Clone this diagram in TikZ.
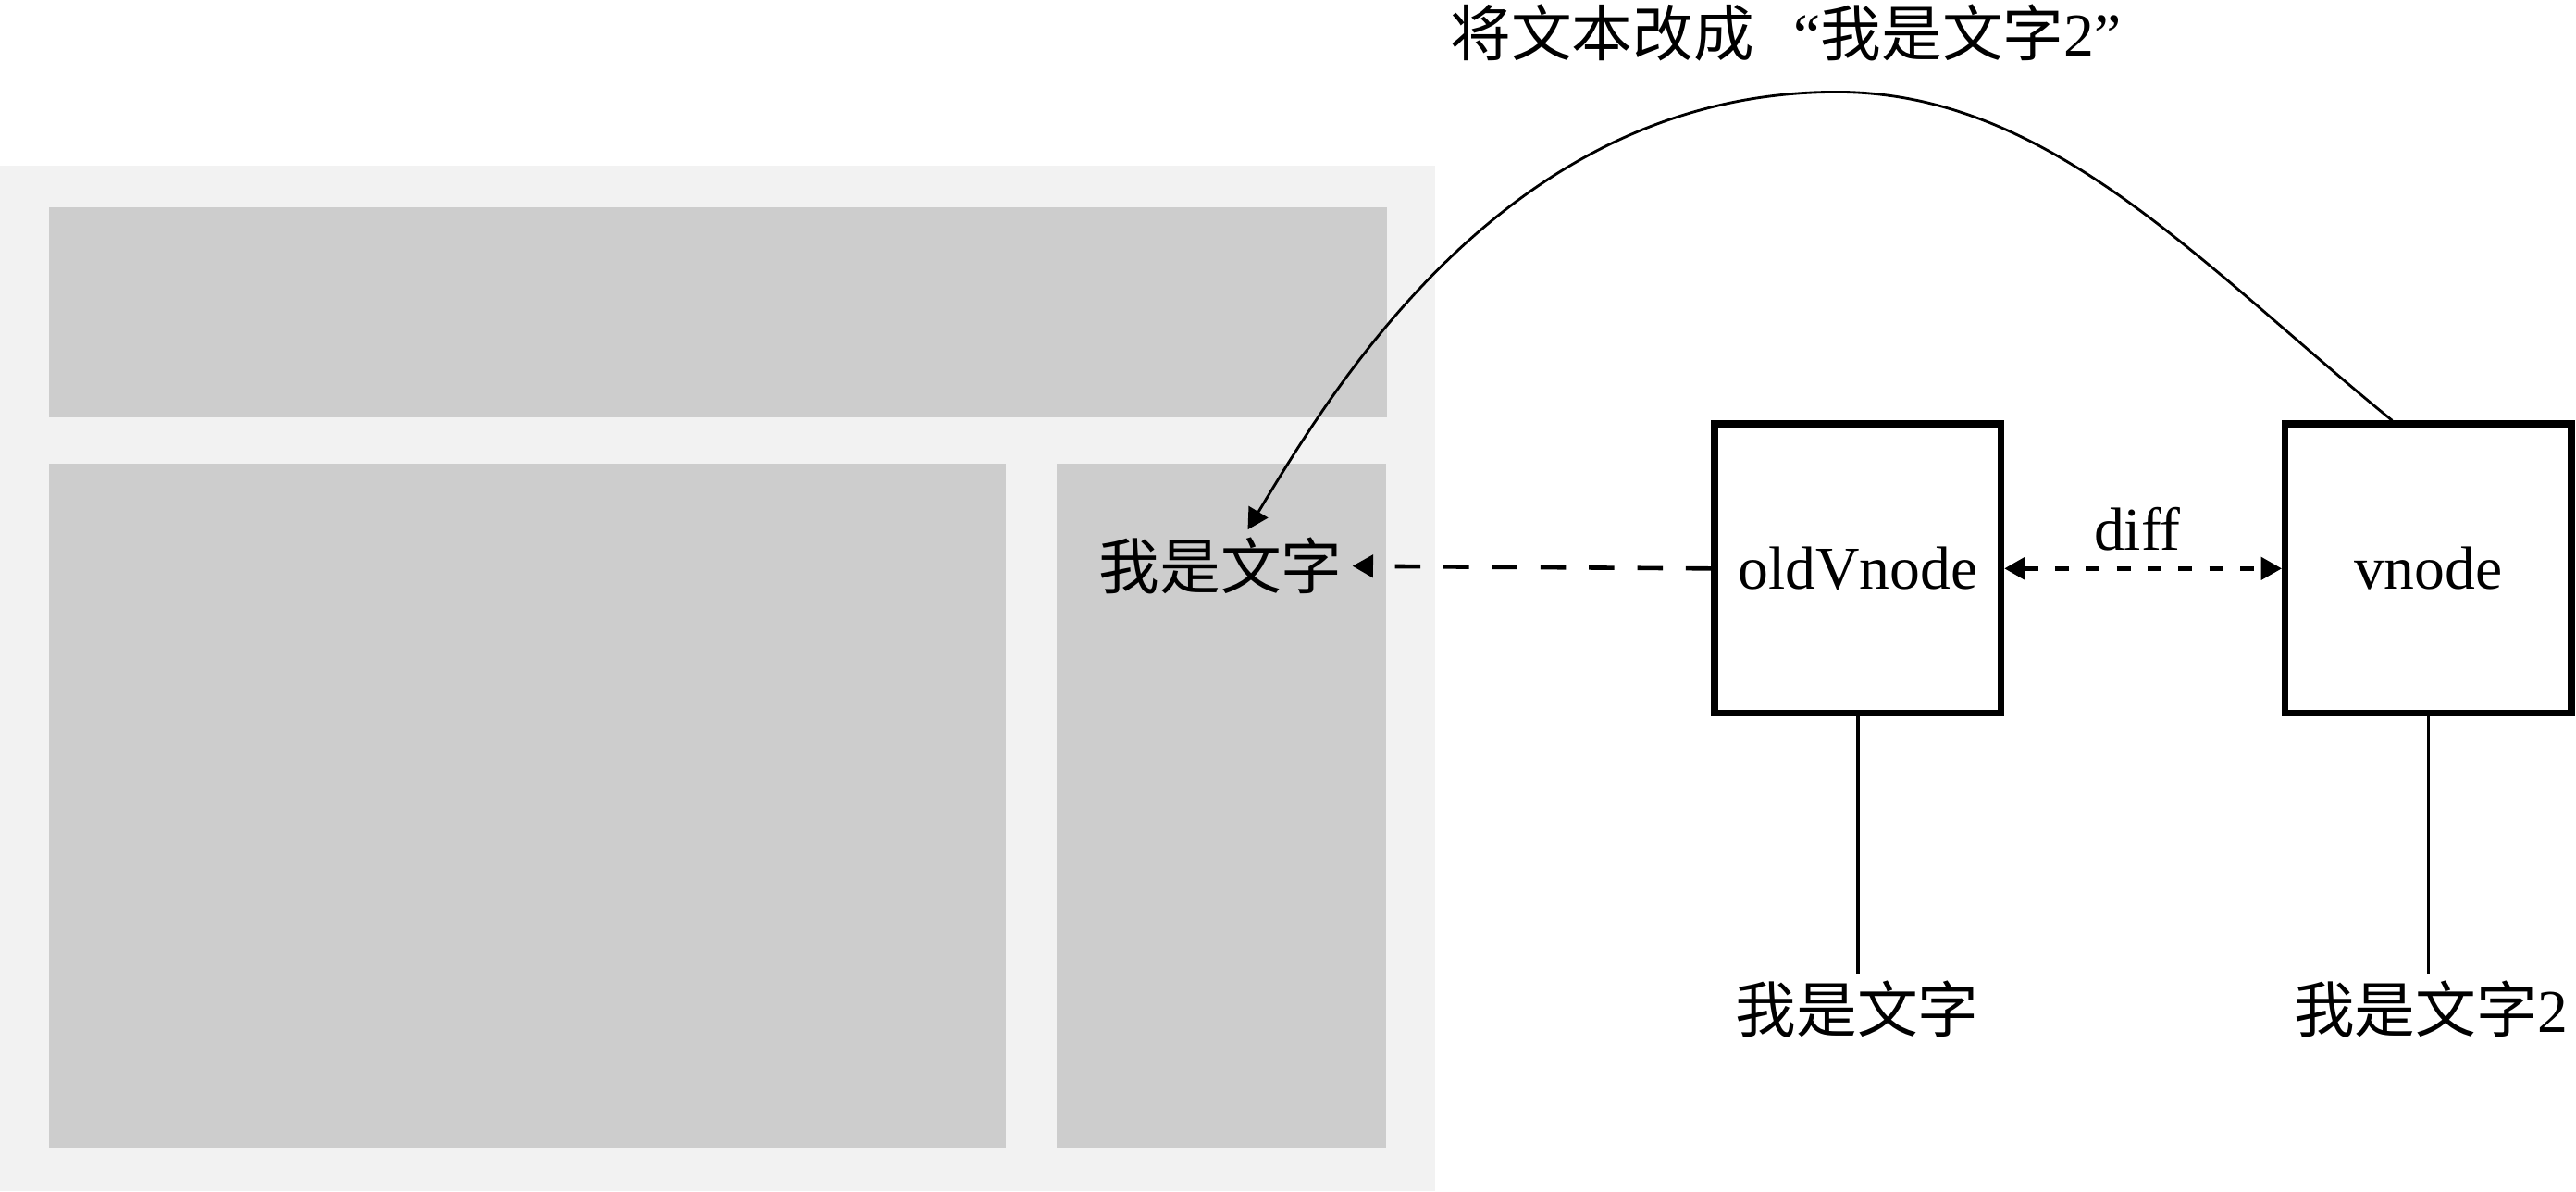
\documentclass[tikz,border=0pt]{standalone}
\usepackage{fontspec}
\setmainfont{Liberation Serif}
\newfontfamily\cjk{Noto Sans CJK SC}
\usetikzlibrary{arrows.meta,calc}
\definecolor{panelgray}{HTML}{F2F2F2}
\definecolor{blockgray}{HTML}{CDCDCD}
\begin{document}
\begin{tikzpicture}[x=1pt,y=-1pt,
  font=\fontsize{37pt}{44pt}\selectfont,
  vbox/.style={draw=black,line width=4.2pt,minimum width=174.2pt,minimum height=176pt,inner sep=0pt,fill=white},
  cjklbl/.style={inner sep=6pt,text height=30pt,text depth=2pt},
  headtip/.tip={Triangle[length=12.6pt,width=13.5pt]},
  dashlong/.style={line width=2.6pt,dash pattern=on 15.5pt off 14pt},
  dashshort/.style={line width=2.6pt,dash pattern=on 8.5pt off 10.3pt},
  thinline/.style={line width=2.1pt},
  curveline/.style={line width=1.6pt}]
\useasboundingbox (0,0) rectangle (1568,725);
% page mock-up
\fill[panelgray] (0,101) rectangle (873.6,725);
\fill[blockgray] (30,126.2) rectangle (844,253.8);
\fill[blockgray] (30,282.2) rectangle (612.2,698.4);
\fill[blockgray] (643.2,282.2) rectangle (843.7,698.4);
% nodes
\node[cjklbl] (txt) at (743,344.5) {\cjk 我是文字};
\node[vbox] (oldV) at (1130.85,346) {oldVnode};
\node[vbox] (vnode) at (1478.1,346) {vnode};
\node[cjklbl] (b1) at (1130.5,614.5) {\cjk 我是文字};
\node[cjklbl] (b2) at (1479.6,614.5) {{\cjk 我是文字}2};
\node[cjklbl] (title) at (1087,20) {{\cjk 将文本改成}\hspace{24pt}“{\cjk 我是文字}2”};
\node[anchor=base,inner sep=0pt] (difflbl) at (1301,335) {diff};
% connectors
\draw[dashlong,-headtip] (oldV.west) -- (txt.east);
\draw[dashshort,headtip-headtip] (oldV.east) -- (vnode.west);
\draw[thinline] (oldV.south) -- (oldV.south |- b1.north);
\draw[thinline] (vnode.south) -- (vnode.south |- b2.north);
\coordinate (peak) at (1118,56);
\draw[curveline,-headtip] ($(vnode.north)+(-22,0)$) .. controls (1340.5,162) and (1248,56) .. (peak)
  .. controls (918,56) and (811.6,236) .. ($(txt.north)+(16.5,0)$);
\end{tikzpicture}
\end{document}
